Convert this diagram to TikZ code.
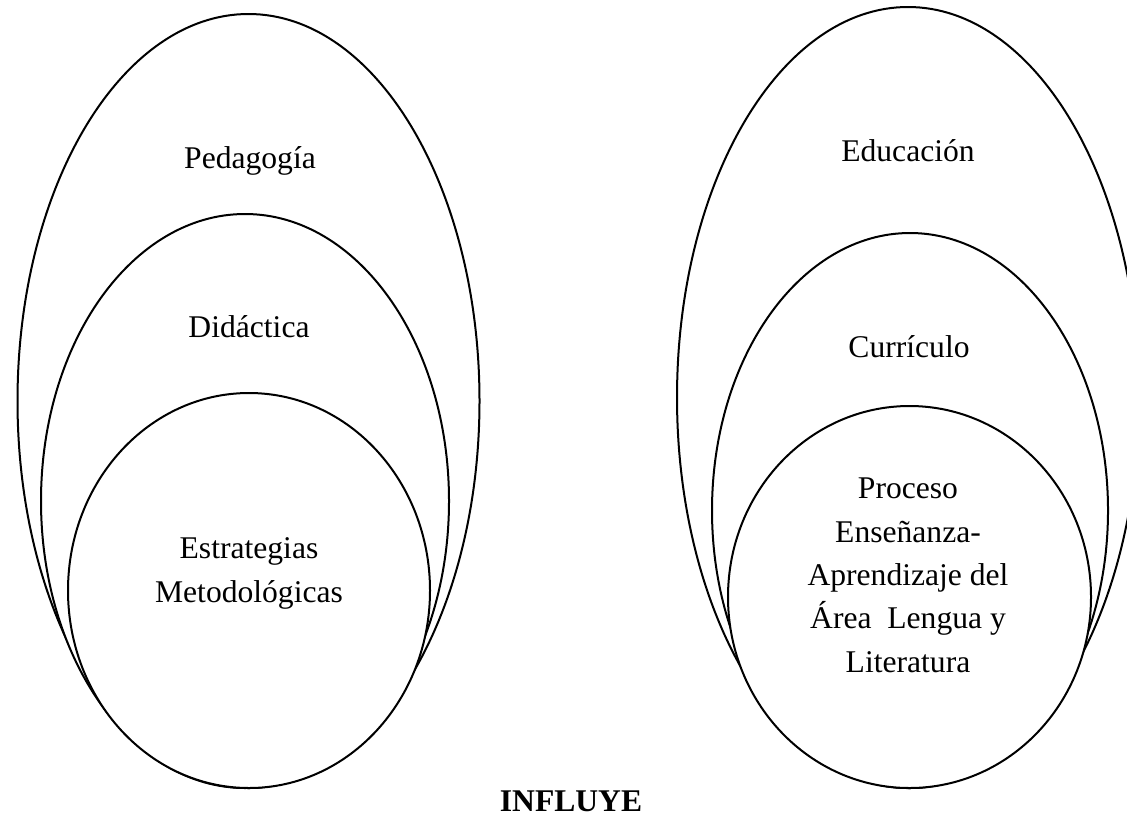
\documentclass[tikz,border=0pt]{standalone}
\usepackage{fontspec}
\setmainfont{Liberation Serif}
\begin{document}
\begin{tikzpicture}[x=0.5pt,y=-0.5pt,
  ring/.style={draw=black,line width=1pt,fill=white},
  lbl/.style={inner sep=0pt,anchor=base,align=center,font=\fontsize{15.8pt}{21.65pt}\selectfont},
  title/.style={inner sep=0pt,anchor=base,font=\fontsize{15.8pt}{21.65pt}\selectfont\bfseries}]
\useasboundingbox (0,0) rectangle (1127,819);
\clip (0,0) rectangle (1127,819);
% left group
\draw[ring] (248.5,401) ellipse [x radius=231, y radius=387];
\draw[ring] (245,501) ellipse [x radius=204, y radius=287];
\draw[ring] (249,590.5) ellipse [x radius=181, y radius=197.5];
% right group
\draw[ring] (908,397.5) ellipse [x radius=231, y radius=390.5];
\draw[ring] (910,510.5) ellipse [x radius=198, y radius=277.5];
\draw[ring] (909.5,597) ellipse [x radius=181.5, y radius=191];
% labels (base anchor = baseline of last line)
\node[lbl] (ped) at (250,168) {Pedagogía};
\node[lbl] (did) at (249,337) {Didáctica};
\node[lbl] (est) at (249,602) {Estrategias\\Metodológicas};
\node[lbl] (edu) at (908,161) {Educación};
\node[lbl] (cur) at (909,357) {Currículo};
\node[lbl] (pro) at (908,672) {Proceso\\Enseñanza-\\Aprendizaje del\\Área\ \ Lengua y\\Literatura};
\node[title] (inf) at (571,811) {INFLUYE};
\end{tikzpicture}
\end{document}
